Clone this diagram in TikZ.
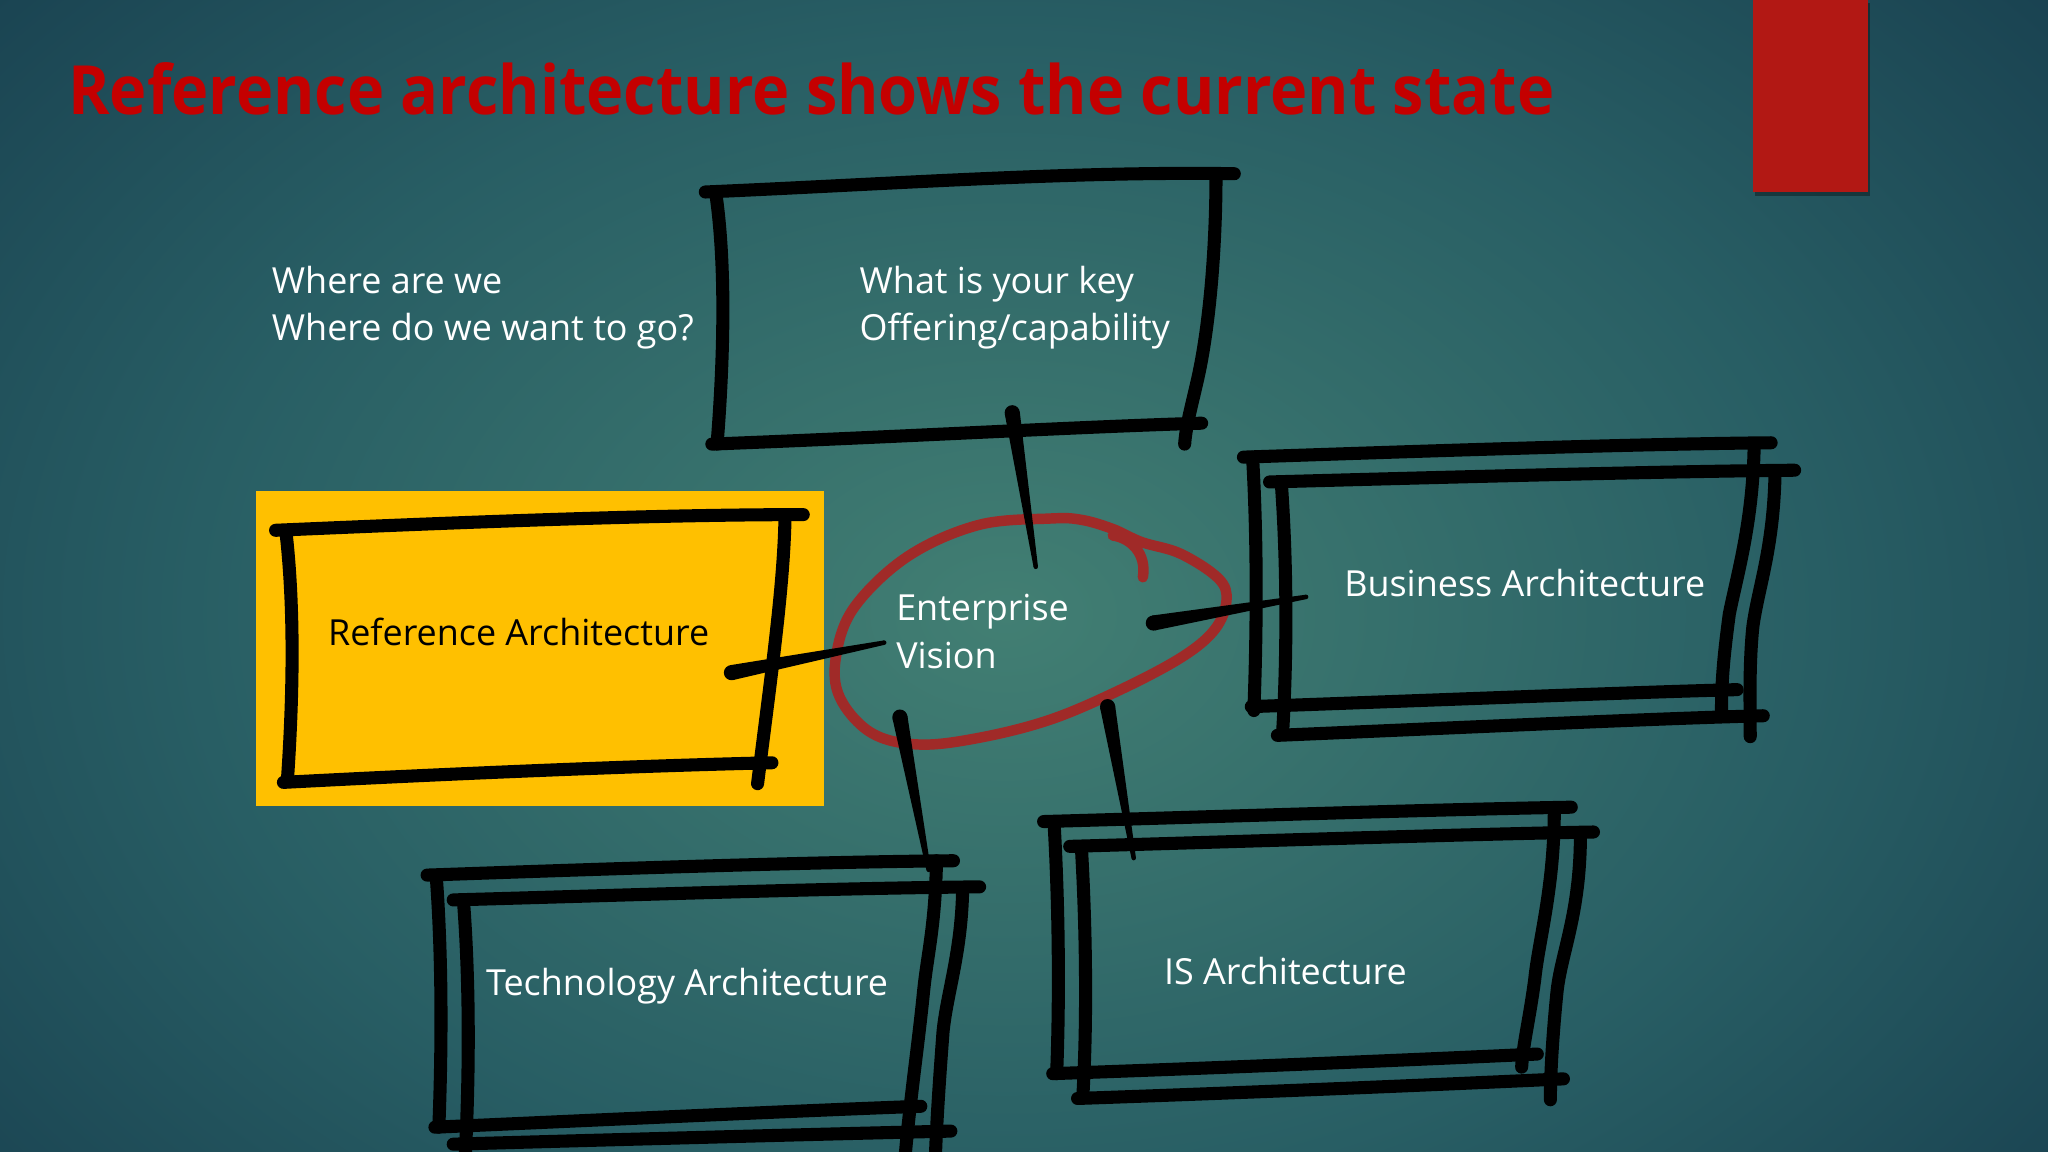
\documentclass[tikz,border=0pt]{standalone}
\usepackage{fontspec}
\setmainfont{Open Sans}
\usepackage{graphicx}
\usetikzlibrary{calc}
\definecolor{bgin}{RGB}{66,127,115}
\definecolor{bgmid}{RGB}{40,94,100}
\definecolor{bgout}{RGB}{20,56,74}
\definecolor{titlered}{RGB}{196,0,0}
\definecolor{barred}{RGB}{178,24,20}
\definecolor{refyellow}{RGB}{255,192,0}
\definecolor{visionred}{RGB}{160,42,40}
\pgfdeclareradialshading{bgshading}{\pgfpoint{0bp}{0bp}}{%
  color(0bp)=(bgin); color(13bp)=(bgmid); color(25bp)=(bgout); color(50bp)=(bgout)}
\newcommand\taperink[2]{%
  \fill[black] ($(#1)!5.8pt!90:(#2)$) -- ($(#2)!1.7pt!-90:(#1)$) -- ($(#2)!1.7pt!90:(#1)$) -- ($(#1)!5.8pt!-90:(#2)$) -- cycle;
  \fill[black] (#1) circle[radius=5.8pt];
  \fill[black] (#2) circle[radius=1.7pt];}
\tikzset{
  inkline/.style={draw=black, line width=10pt, line cap=round, line join=round},
  visionline/.style={draw=visionred, line width=8pt, line cap=round, line join=round},
  label/.style={inner sep=0pt, anchor=base west, text=white, font=\fontsize{27.5pt}{33pt}\selectfont},
}
\begin{document}
\begin{tikzpicture}[x=1pt,y=-1pt]
\useasboundingbox (0,0) rectangle (1568,882);
% background
\begin{scope}
  \clip (0,0) rectangle (1568,882);
  \shade[shading=bgshading] (-430,-380) rectangle (1970,1320);
\end{scope}
% red bar with faint shadow
\fill[black, opacity=0.35] (1344,2) rectangle (1432,150);
\fill[barred] (1342,0) rectangle (1430,147);
% title
\node[inner sep=0pt, anchor=base west, text=titlered] (title) at (52,88)
  {\resizebox{1138pt}{\height}{\fontsize{52pt}{60pt}\selectfont\bfseries Reference architecture shows the current state}};

% yellow panel
\fill[refyellow] (196,376) rectangle (631,617);

% Box A (top)
\draw[inkline] (540,147) .. controls (680,141) and (820,131) .. (945,133);
\draw[inkline] (548,148) .. controls (557,210) and (553,290) .. (549,340);
\draw[inkline] (545,340) .. controls (700,334) and (820,327) .. (920,324);
\draw[inkline] (931,134) .. controls (931,190) and (926,250) .. (917,290) .. controls (912,312) and (908,326) .. (907,340);

% Box Ref
\draw[inkline] (211,406) .. controls (350,400) and (500,394) .. (615,394);
\draw[inkline] (219,408) .. controls (226,470) and (224,540) .. (220,598);
\draw[inkline] (217,599) .. controls (350,592) and (500,586) .. (591,584);
\draw[inkline] (601,397) .. controls (600,450) and (590,520) .. (580,600);

% Business box
\draw[inkline] (952,350) .. controls (1100,345) and (1250,340) .. (1356,339);
\draw[inkline] (959,350) .. controls (963,420) and (962,490) .. (960,544);
\draw[inkline] (958,541) .. controls (1100,536) and (1250,530) .. (1330,528);
\draw[inkline] (1343,342) .. controls (1342,400) and (1330,440) .. (1324,470) .. controls (1320,500) and (1318,520) .. (1318,544);
\draw[inkline] (972,369) .. controls (1120,365) and (1270,361) .. (1374,360);
\draw[inkline] (981,370) .. controls (986,440) and (985,510) .. (982,561);
\draw[inkline] (978,563) .. controls (1120,557) and (1270,550) .. (1350,548);
\draw[inkline] (1359,362) .. controls (1358,420) and (1346,450) .. (1342,480) .. controls (1339,510) and (1340,540) .. (1340,564);

% Technology box
\draw[inkline] (327,670) .. controls (470,665) and (620,660) .. (730,659);
\draw[inkline] (334,671) .. controls (339,740) and (338,810) .. (336,863);
\draw[inkline] (333,863) .. controls (470,857) and (620,850) .. (705,847);
\draw[inkline] (717,659) .. controls (716,710) and (710,730) .. (707,760) .. controls (703,800) and (697,840) .. (693,885);
\draw[inkline] (347,689) .. controls (490,685) and (640,680) .. (750,679);
\draw[inkline] (355,692) .. controls (360,760) and (359,830) .. (356,890);
\draw[inkline] (347,876) .. controls (490,872) and (640,868) .. (728,866);
\draw[inkline] (737,682) .. controls (736,730) and (725,760) .. (722,790) .. controls (719,830) and (717,860) .. (716,890);

% IS box
\draw[inkline] (799,629) .. controls (940,625) and (1090,620) .. (1203,618);
\draw[inkline] (807,630) .. controls (811,700) and (811,770) .. (809,822);
\draw[inkline] (806,822) .. controls (950,817) and (1090,811) .. (1177,807);
\draw[inkline] (1190,620) .. controls (1190,680) and (1178,720) .. (1175,750) .. controls (1171,780) and (1166,800) .. (1165,817);
\draw[inkline] (819,648) .. controls (960,644) and (1110,639) .. (1220,637);
\draw[inkline] (828,650) .. controls (832,720) and (832,790) .. (829,840);
\draw[inkline] (825,841) .. controls (970,836) and (1110,830) .. (1197,826);
\draw[inkline] (1210,639) .. controls (1210,700) and (1195,730) .. (1192,760) .. controls (1189,790) and (1187,820) .. (1187,842);

% Enterprise vision loop
\draw[visionline] plot[smooth cycle, tension=0.6] coordinates {
  (804,397) (828,398) (852,405) (874,415) (904,424) (933,443) (939,460) (930,482) (905,503) (858,528)
  (804,551) (749,565) (703,570) (667,561) (643,534) (640,503) (654,465) (695,426) (749,402)};
\draw[visionline] (852,410) .. controls (866,412) and (878,424) .. (875,442);

% connectors
\coordinate (topA) at (775,316);   \coordinate (topV) at (793,434);
\coordinate (refA) at (560,515);   \coordinate (refV) at (677,492);
\coordinate (busV) at (883,477);   \coordinate (busA) at (1000,457);
\coordinate (tecV) at (689,549);   \coordinate (tecA) at (711,666);
\coordinate (isV)  at (848,541);   \coordinate (isA)  at (868,657);
\taperink{topA}{topV}
\taperink{refA}{refV}
\taperink{busV}{busA}
\taperink{tecV}{tecA}
\taperink{isV}{isA}

% texts
\node[label] (where1) at (208,225) {Where are we};
\node[label] (where2) at (208,261) {Where do we want to go?};
\node[label] (key1) at (658,225) {What is your key};
\node[label] (key2) at (658,261) {Offering/capability};
\node[label, text=black] (ref) at (251,494) {Reference Architecture};
\node[label] (ev1) at (686,475) {Enterprise};
\node[label] (ev2) at (686,511.5) {Vision};
\node[label] (bus) at (1029,457) {Business Architecture};
\node[label] (tec) at (372,762) {Technology Architecture};
\node[label] (is) at (891,753.5) {IS Architecture};
\end{tikzpicture}
\end{document}
